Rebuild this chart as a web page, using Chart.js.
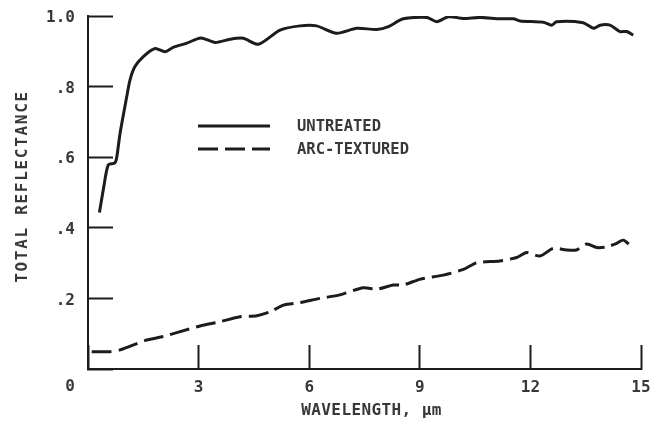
<!DOCTYPE html>
<html>
<head>
<meta charset="utf-8">
<script src="https://cdn.jsdelivr.net/npm/chart.js@4.4.1/dist/chart.umd.min.js"></script>
<style>
  html, body { margin: 0; padding: 0; background: #ffffff; }
  #wrap { width: 653px; height: 421px; position: relative; }
</style>
</head>
<body>
<div id="wrap"><canvas id="c" width="653" height="421"></canvas></div>
<script>
// ---- data ----
const seriesNames = ['UNTREATED', 'ARC-TEXTURED'];

const untreatedX = [0.31, 0.42, 0.55, 0.73, 0.78, 0.87, 1.05, 1.14, 1.27, 1.50, 1.82, 2.09, 2.31, 2.68, 3.06, 3.45, 3.85, 4.21, 4.62, 5.21, 5.75, 6.20, 6.74, 7.29, 7.83, 8.15, 8.55, 9.19, 9.46, 9.78, 10.18, 10.63, 11.17, 11.54, 11.72, 12.35, 12.58, 12.71, 13.43, 13.71, 13.89, 14.16, 14.43, 14.61, 14.79];
const untreatedY = [0.443, 0.511, 0.578, 0.584, 0.600, 0.668, 0.771, 0.819, 0.856, 0.885, 0.908, 0.899, 0.911, 0.923, 0.938, 0.925, 0.934, 0.937, 0.920, 0.960, 0.972, 0.972, 0.951, 0.965, 0.962, 0.970, 0.992, 0.996, 0.984, 0.998, 0.993, 0.996, 0.992, 0.992, 0.986, 0.982, 0.974, 0.984, 0.981, 0.965, 0.974, 0.974, 0.956, 0.956, 0.946];

const arcX = [0.10, 0.60, 0.87, 1.59, 2.04, 2.50, 3.04, 3.58, 4.12, 4.58, 4.94, 5.30, 5.75, 6.29, 6.83, 7.47, 7.83, 8.28, 8.55, 9.00, 9.64, 10.18, 10.54, 11.17, 11.63, 11.90, 12.26, 12.62, 12.98, 13.25, 13.53, 13.80, 14.07, 14.34, 14.52, 14.79];
const arcY = [0.049, 0.049, 0.054, 0.082, 0.092, 0.106, 0.122, 0.134, 0.148, 0.151, 0.162, 0.181, 0.188, 0.200, 0.210, 0.230, 0.226, 0.238, 0.238, 0.254, 0.266, 0.282, 0.301, 0.306, 0.316, 0.330, 0.320, 0.342, 0.337, 0.337, 0.354, 0.344, 0.346, 0.356, 0.365, 0.342];

const xTickValues = [0, 3, 6, 9, 12, 15];
const xTickLabels = ['', '3', '6', '9', '12', '15'];
const yTickValues = [0, 0.2, 0.4, 0.6, 0.8, 1.0];
const yTickLabels = [['', '', '0'], '.2', '.4', '.6', '.8', '1.0'];

const xTitle = 'WAVELENGTH, \u00B5m';
const yTitle = 'TOTAL REFLECTANCE';

// ---- styling ----
const INK = '#1c1c1c';
const TEXT = '#383838';
const FONT = "'DejaVu Sans Mono', 'Liberation Mono', monospace";
const WEIGHT = 'bold';

function toPoints(xs, ys) { return xs.map((x, i) => ({ x: x, y: ys[i] })); }

function noScalePadding(scale) {
  scale.paddingTop = 0;
  scale.paddingBottom = 0;
  scale.paddingLeft = 0;
  scale.paddingRight = 0;
}

// custom legend drawn from the datasets' own label/style
const legendPlugin = {
  id: 'insetLegend',
  afterDatasetsDraw(chart) {
    const ctx = chart.ctx;
    const rows = [126, 149];
    ctx.save();
    chart.data.datasets.forEach((ds, i) => {
      const y = rows[i];
      ctx.beginPath();
      ctx.strokeStyle = ds.borderColor;
      ctx.lineWidth = ds.borderWidth;
      ctx.lineCap = 'butt';
      ctx.setLineDash(ds.borderDash || []);
      ctx.moveTo(198, y);
      ctx.lineTo(270, y);
      ctx.stroke();
      ctx.setLineDash([]);
      ctx.fillStyle = TEXT;
      ctx.font = WEIGHT + " 15.5px " + FONT;
      ctx.textAlign = 'left';
      ctx.textBaseline = 'middle';
      ctx.fillText(ds.label, 297, y + 1);
    });
    ctx.restore();
  }
};

// nudge axis titles and widen their letter spacing, as in the typed original
function wrapTitle(scale, spacing, dx, dy) {
  if (!scale || scale.__wrapped) return;
  const orig = scale.drawTitle.bind(scale);
  scale.drawTitle = function () {
    const ctx = this.ctx;
    ctx.save();
    ctx.letterSpacing = spacing;
    ctx.translate(dx, dy);
    orig();
    ctx.restore();
    ctx.letterSpacing = '0px';
  };
  scale.__wrapped = true;
}
const spacingPlugin = {
  id: 'titleSpacing',
  afterUpdate(chart) {
    wrapTitle(chart.scales.y, '1.7px', 0, -6);
    wrapTitle(chart.scales.x, '0.4px', 7, 0);
  }
};

new Chart(document.getElementById('c'), {
  type: 'line',
  data: {
    datasets: [
      {
        label: seriesNames[0],
        data: toPoints(untreatedX, untreatedY),
        borderColor: INK,
        borderWidth: 3,
        pointRadius: 0,
        tension: 0.25,
        fill: false
      },
      {
        label: seriesNames[1],
        data: toPoints(arcX, arcY),
        borderColor: INK,
        borderWidth: 3,
        borderDash: [20, 7],
        pointRadius: 0,
        tension: 0.25,
        fill: false
      }
    ]
  },
  options: {
    responsive: false,
    animation: false,
    devicePixelRatio: 1,
    layout: { padding: { left: 0, right: 12, top: 16, bottom: 0 } },
    plugins: {
      legend: { display: false },
      tooltip: { enabled: false }
    },
    scales: {
      x: {
        type: 'linear',
        min: 0,
        max: 15,
        afterBuildTicks(scale) { scale.ticks = xTickValues.map(v => ({ value: v })); },
        afterFit(scale) { scale.height = 52; noScalePadding(scale); },
        ticks: {
          callback: (v) => { const i = xTickValues.indexOf(v); return i >= 0 ? xTickLabels[i] : ''; },
          color: TEXT,
          font: { family: FONT, size: 16, weight: WEIGHT },
          padding: 33,
          maxRotation: 0,
          autoSkip: false
        },
        grid: {
          drawOnChartArea: false,
          drawTicks: true,
          tickLength: -24,
          tickWidth: 2,
          tickColor: INK
        },
        border: { display: true, color: INK, width: 2 },
        title: {
          display: true,
          text: xTitle,
          color: TEXT,
          font: { family: FONT, size: 16, weight: WEIGHT },
          padding: { top: 0, bottom: 1 }
        }
      },
      y: {
        type: 'linear',
        min: 0,
        max: 1,
        afterBuildTicks(scale) { scale.ticks = yTickValues.map(v => ({ value: v })); },
        afterFit(scale) { scale.width = 88; noScalePadding(scale); },
        ticks: {
          callback: (v) => { const i = yTickValues.findIndex(t => Math.abs(t - v) < 1e-9); return i >= 0 ? yTickLabels[i] : ''; },
          color: TEXT,
          font: { family: FONT, size: 16, lineHeight: 1.0, weight: WEIGHT },
          padding: 38,
          labelOffset: 2,
          autoSkip: false
        },
        grid: {
          drawOnChartArea: false,
          drawTicks: true,
          tickLength: -25,
          tickWidth: 2,
          tickColor: INK
        },
        border: { display: true, color: INK, width: 2 },
        title: {
          display: true,
          text: yTitle,
          color: TEXT,
          font: { family: FONT, size: 16, weight: WEIGHT },
          padding: { top: 13, bottom: 0 }
        }
      }
    }
  },
  plugins: [legendPlugin, spacingPlugin]
});
</script>
</body>
</html>
